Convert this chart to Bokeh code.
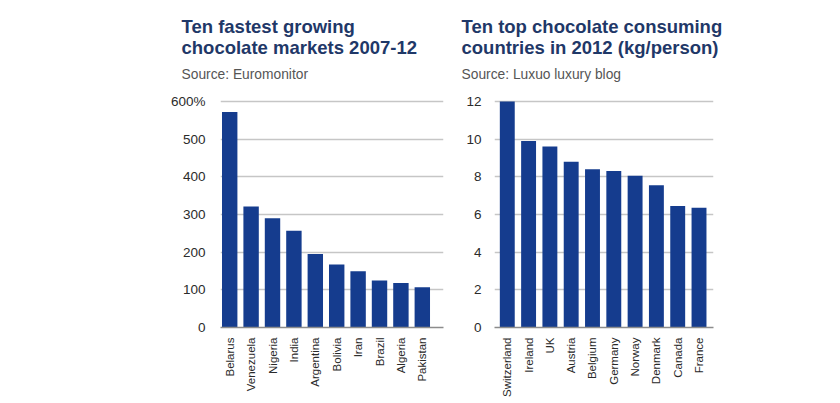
from bokeh.plotting import figure
from bokeh.models import Range1d, FixedTicker, Title
from bokeh.layouts import row
from bokeh.embed import file_html
from bokeh.resources import INLINE

# ---- data ----
growth_countries = ["Belarus", "Venezuela", "Nigeria", "India", "Argentina",
                    "Bolivia", "Iran", "Brazil", "Algeria", "Pakistan"]
growth_pct = [572, 321, 290, 257, 195, 167, 149, 125, 118, 107]
growth_ticks = [0, 100, 200, 300, 400, 500, 600]
growth_tick_labels = ["0", "100", "200", "300", "400", "500", "600%"]

consume_countries = ["Switzerland", "Ireland", "UK", "Austria", "Belgium",
                     "Germany", "Norway", "Denmark", "Canada", "France"]
consume_kg = [12.0, 9.9, 9.6, 8.8, 8.4, 8.3, 8.05, 7.55, 6.45, 6.35]
consume_ticks = [0, 2, 4, 6, 8, 10, 12]
consume_tick_labels = ["0", "2", "4", "6", "8", "10", "12"]

title_left = "Ten fastest growing\nchocolate markets 2007-12"
source_left = "Source: Euromonitor"
title_right = "Ten top chocolate consuming\ncountries in 2012 (kg/person)"
source_right = "Source: Luxuo luxury blog"

BAR = "#153c8e"
TITLE = "#1f3868"
FONT = "Liberation Sans"


def make_chart(cats, vals, ticks, tick_labels, title, source, width, xr, yr, bw,
               mbl, mbr, label_standoff, title_offset, src_standoff, title_standoff):
    idx = list(range(len(cats)))
    p = figure(width=width, height=400, output_backend="svg", toolbar_location=None,
               x_range=Range1d(*xr), y_range=Range1d(*yr),
               min_border_left=mbl, min_border_right=mbr,
               min_border_top=99, min_border_bottom=73,
               background_fill_color="white", border_fill_color="white",
               outline_line_color=None)
    p.title.visible = False
    p.add_layout(Title(text=source, text_font=FONT, text_font_size="13.8px",
                       text_font_style="normal", text_color="#555555",
                       vertical_align="bottom",
                       standoff=src_standoff, offset=title_offset), "above")
    p.add_layout(Title(text=title, text_font=FONT, text_font_size="18.5px",
                       text_font_style="bold", text_color=TITLE,
                       text_line_height=1.0,
                       standoff=title_standoff, offset=title_offset), "above")

    p.vbar(x=idx, top=vals, bottom=0, width=bw, fill_color=BAR, line_color=None)

    p.xgrid.visible = False
    p.ygrid.grid_line_color = "#c6c6c6"
    p.ygrid.grid_line_width = 1.4
    p.ygrid.ticker = FixedTicker(ticks=ticks[1:])

    p.yaxis.ticker = FixedTicker(ticks=ticks)
    p.yaxis.major_label_overrides = {t: l for t, l in zip(ticks, tick_labels)}
    p.yaxis.axis_line_color = None
    p.yaxis.major_tick_line_color = None
    p.yaxis.minor_tick_line_color = None
    p.yaxis.major_label_standoff = label_standoff
    p.yaxis.major_label_text_font = FONT
    p.yaxis.major_label_text_font_size = "13.5px"
    p.yaxis.major_label_text_color = "#2b2b2b"

    p.xaxis.ticker = FixedTicker(ticks=idx)
    p.xaxis.major_label_overrides = {i: c for i, c in zip(idx, cats)}
    p.xaxis.major_label_orientation = 1.5707963
    p.xaxis.axis_line_color = "#8c8c8c"
    p.xaxis.axis_line_width = 1.5
    p.xaxis.major_tick_line_color = None
    p.xaxis.minor_tick_line_color = None
    p.xaxis.major_label_standoff = 4
    p.xaxis.major_label_text_font = FONT
    p.xaxis.major_label_text_font_size = "11.5px"
    p.xaxis.major_label_text_color = "#2a2a2a"
    return p


p1 = make_chart(growth_countries, growth_pct, growth_ticks, growth_tick_labels,
                title_left, source_left, 455, (-0.43, 9.99), (0, 605), 0.72,
                220, 12, 9, -39, 36, -22)
p2 = make_chart(consume_countries, consume_kg, consume_ticks, consume_tick_labels,
                title_right, source_right, 375, (-0.6, 9.68), (0, 12.1), 0.70,
                39, 117, 7, -33, 36, -22)

layout = row(p1, p2)
open("out.html", "w").write(file_html(layout, INLINE))
